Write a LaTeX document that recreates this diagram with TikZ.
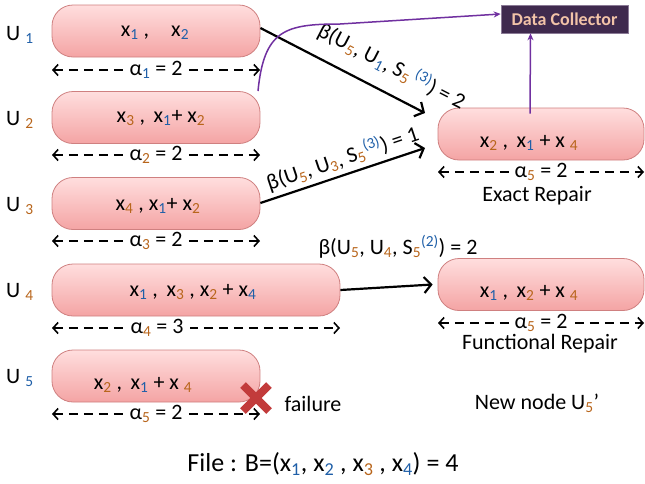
\documentclass[tikz,border=0pt]{standalone}
\usepackage{fontspec}
\setmainfont{Carlito}
\usetikzlibrary{arrows.meta}
\definecolor{boxtop}{HTML}{FFDEDE}
\definecolor{boxbot}{HTML}{F4A4A4}
\definecolor{boxedge}{HTML}{CF8080}
\definecolor{dcfill}{HTML}{3F2A4E}
\definecolor{dcedge}{HTML}{8A7A96}
\definecolor{dctext}{HTML}{F2C3A8}
\definecolor{purp}{HTML}{7030A0}
\definecolor{sblue}{HTML}{1F5FA8}
\definecolor{sorange}{HTML}{B8651B}
\definecolor{xred}{HTML}{C23B3B}
\newcommand{\sbb}[1]{\textsubscript{\textcolor{sblue}{#1}}}
\newcommand{\sbo}[1]{\textsubscript{\textcolor{sorange}{#1}}}
\newcommand{\spb}[1]{\textsuperscript{\textcolor{sblue}{#1}}}
\tikzset{
  store/.style={draw=boxedge, line width=0.8pt, rounded corners=21pt, top color=boxtop, bottom color=boxbot, minimum height=52pt, inner sep=0pt},
  txt/.style={font=\fontsize{22}{26}\selectfont, inner sep=1pt},
  dimline/.style={line width=1.6pt, dash pattern=on 9pt off 6pt, {Straight Barb[length=5pt,width=11pt,line width=1.6pt]}-{Straight Barb[length=5pt,width=11pt,line width=1.6pt]}},
  dimlab/.style={txt, fill=white, inner xsep=6pt, inner ysep=2pt},
  beta/.style={line width=2.2pt, -{Straight Barb[length=7pt,width=16pt,line width=2.2pt]}},
  dcarrow/.style={purp, line width=1.5pt, -{Stealth[length=7pt,width=6pt]}},
}
\begin{document}
\begin{tikzpicture}[x=1pt,y=-1pt]
\useasboundingbox (0,0) rectangle (645,483);
% storage boxes
\node[store, minimum width=208pt] (u1) at (156,31) {};
\node[store, minimum width=208pt] (u2) at (156,117.5) {};
\node[store, minimum width=208pt] (u3) at (156,203.5) {};
\node[store, minimum width=288pt] (u4) at (196,290) {};
\node[store, minimum width=208pt] (u5) at (156,376) {};
\node[store, minimum width=206pt] (er) at (541,134) {};
\node[store, minimum width=206pt] (fr) at (541,284.5) {};
% box contents
\node[txt] (t1) at (155,33) {x\sbb{1} ,\quad x\sbb{2}};
\node[txt] (t2) at (161,118) {x\sbo{3} ,\, x\sbb{1}+ x\sbo{2}};
\node[txt] (t3) at (158,206) {x\sbo{4} , x\sbb{1}+ x\sbo{2}};
\node[txt] (t4) at (193,292) {x\sbb{1} ,\, x\sbo{3} , x\sbo{2} + x\sbb{4}};
\node[txt] (t5) at (143,385) {x\sbo{2} ,\, x\sbb{1} + x \sbo{4}};
\node[txt] (te) at (529,143) {x\sbo{2} ,\, x\sbb{1} + x \sbo{4}};
\node[txt] (tf) at (529,293) {x\sbb{1} ,\, x\sbo{2} + x \sbo{4}};
% U labels
\node[txt, anchor=west] (l1) at (5,35) {U \sbb{1}};
\node[txt, anchor=west] (l2) at (5,120) {U \sbo{2}};
\node[txt, anchor=west] (l3) at (5,206) {U \sbo{3}};
\node[txt, anchor=west] (l4) at (5,292) {U \sbo{4}};
\node[txt, anchor=west] (l5) at (5,378) {U \sbb{5}};
% dimension arrows
\coordinate (d1a) at (52,70);  \coordinate (d1b) at (260,70);
\coordinate (d2a) at (52,155); \coordinate (d2b) at (260,155);
\coordinate (d3a) at (52,241); \coordinate (d3b) at (260,241);
\coordinate (d4a) at (52,328); \coordinate (d4b) at (340,328);
\coordinate (d5a) at (52,414); \coordinate (d5b) at (260,414);
\coordinate (dea) at (438,172); \coordinate (deb) at (644,172);
\coordinate (dfa) at (438,323); \coordinate (dfb) at (644,323);
\draw[dimline] (d1a) -- node[dimlab] {α\sbb{1} = 2} (d1b);
\draw[dimline] (d2a) -- node[dimlab] {α\sbo{2} = 2} (d2b);
\draw[dimline] (d3a) -- node[dimlab] {α\sbo{3} = 2} (d3b);
\draw[dimline] (d4a) -- node[dimlab, pos=0.365] {α\sbo{4} = 3} (d4b);
\draw[dimline] (d5a) -- node[dimlab] {α\sbo{5} = 2} (d5b);
\draw[dimline] (dea) -- node[dimlab] {α\sbo{5} = 2} (deb);
\draw[dimline] (dfa) -- node[dimlab] {α\sbo{5} = 2} (dfb);
% repair captions
\node[txt] (cap1) at (537,196) {Exact Repair};
\node[txt] (cap2) at (540,344) {Functional Repair};
\node[txt] (cap3) at (537,403) {New node U\sbo{5}’};
\node[txt] (fail) at (313,404) {failure};
\node[txt, font=\fontsize{26}{30}\selectfont] (file) at (323,464) {File : B=(x\sbb{1}, x\sbb{2} , x\sbo{3} , x\sbb{4}) = 4};
% failure cross
\coordinate (xc) at (256,398);
\draw[xred, line width=8pt] ([shift={(-13,-13)}]xc) -- ([shift={(13,13)}]xc);
\draw[xred, line width=8pt] ([shift={(-13,13)}]xc) -- ([shift={(13,-13)}]xc);
% data collector
\node[draw=dcedge, line width=0.6pt, fill=dcfill, text=dctext, font=\fontsize{18}{20}\selectfont\bfseries, minimum width=127pt, minimum height=28pt, inner sep=2pt] (dc) at (564.5,19) {Data Collector};
% repair flows
\coordinate (b1end) at (425,113);
\coordinate (b2end) at (425,148);
\draw[beta] (u1.east |- 0,28) -- (b1end);
\node[txt, rotate=-27.3] (b1lab) at (392,66) {β(U\sbo{5}, U\sbb{1}, S\sbo{5}\,\spb{(3)}) = 2};
\draw[beta] (u3.east |- 0,203) -- node[txt, sloped, above, pos=0.53, inner sep=4pt] {β(U\sbo{5}, U\sbo{3}, S\sbo{5}\spb{(3)}) = 1} (b2end);
\draw[beta] (u4.east) -- ([xshift=-5pt]fr.west);
\node[txt] (b3lab) at (398,247) {β(U\sbo{5}, U\sbo{4}, S\sbo{5}\spb{(2)}) = 2};
% data collector links
\draw[dcarrow] ([xshift=-11pt,yshift=-6pt]er.north) -- ([xshift=-34pt]dc.south);
\coordinate (pstart) at (258,91);
\draw[dcarrow] (pstart) .. controls (264,30) and (285,24) .. (340,24) -- ([yshift=5pt]dc.west);
\end{tikzpicture}
\end{document}
